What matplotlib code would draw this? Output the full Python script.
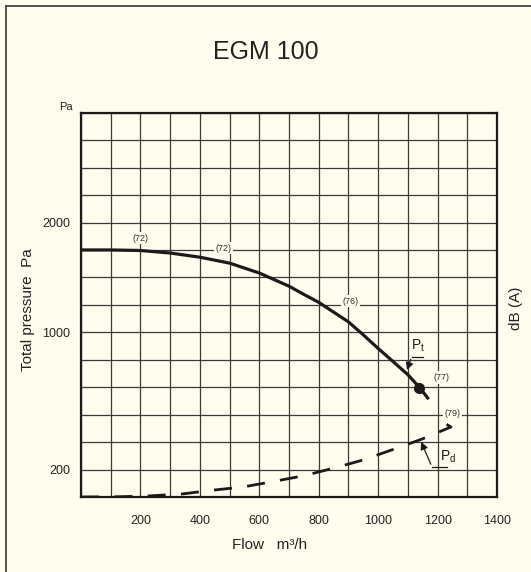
import numpy as np
import matplotlib
matplotlib.use("Agg")
import matplotlib.pyplot as plt
from matplotlib.lines import Line2D

plt.rcParams['font.family'] = ['Liberation Sans', 'DejaVu Sans']
plt.rcParams['mathtext.fontset'] = 'custom'
plt.rcParams['mathtext.rm'] = 'Liberation Sans'

BG = "#FFFDEE"
INK = "#1a1a1a"

# Pressure axis is not linear: grid rows vs Pa
pa_knots = [0, 200, 1000, 2000, 3000]
row_knots = [0, 1, 6, 10, 14]

# Total pressure curve Pt (flow m3/h, Pa)
pt_flow = [0, 100, 200, 300, 400, 500, 550, 600, 700, 750, 800, 900, 950, 1000, 1050, 1100, 1140, 1170]
pt_pa = [1750, 1750, 1745, 1722, 1684, 1630, 1585, 1540, 1420, 1345, 1273, 1095, 985, 906, 830, 753, 677, 610]

# Dynamic pressure curve Pd
pd_flow = [0, 130, 230, 340, 440, 545, 645, 750, 850, 950, 1045, 1145, 1245, 1200]
pd_pa = [0, 2, 8, 22, 49, 73, 112, 155, 208, 256, 314, 376, 448, 495]

# operating point
op_flow, op_pa = 1138, 677

# sound level labels dB(A)
db_labels = ["(72)", "(72)", "(76)", "(77)", "(79)"]
db_flow = [200, 480, 906, 1214, 1250]
db_pa = [1858, 1765, 1282, 736, 526]

x_ticks = list(range(0, 1500, 100))
x_labels = [str(v) if v % 200 == 0 and v > 0 else "" for v in x_ticks]
y_ticks = list(np.interp(np.arange(15), row_knots, pa_knots))
y_labels = {200: "200", 1000: "1000", 2000: "2000"}


def fwd(v):
    return np.interp(v, pa_knots, row_knots)


def inv(r):
    return np.interp(r, row_knots, pa_knots)


fig = plt.figure(figsize=(5.31, 5.72), dpi=100, facecolor=BG)
ax = fig.add_axes([81 / 531, 1 - 497 / 572, 416 / 531, 384.3 / 572])
ax.set_facecolor(BG)
ax.set_yscale('function', functions=(fwd, inv))
ax.set_xlim(0, 1400)
ax.set_ylim(0, 3000)

ax.set_xticks(x_ticks)
ax.set_xticklabels(x_labels, fontsize=9, color="#222")
ax.set_yticks(y_ticks)
ax.set_yticklabels([y_labels.get(int(round(v)), "") for v in y_ticks], fontsize=9, color="#222")
ax.tick_params(length=0, pad=8)
ax.tick_params(axis='x', pad=13)
ax.grid(True, color="#3a3a3a", lw=0.9)
ax.set_axisbelow(True)
for s in ax.spines.values():
    s.set_linewidth(1.6)
    s.set_color(INK)

# curves
ax.plot(pt_flow, pt_pa, color=INK, lw=2.3, solid_capstyle='butt', solid_joinstyle='round', zorder=3)
ax.plot(pd_flow, pd_pa, color=INK, lw=2.0, dashes=(6.5, 5.5), zorder=3)
ax.plot([op_flow], [op_pa], 'o', color=INK, ms=7, zorder=4)

for lab, fx, py in zip(db_labels, db_flow, db_pa):
    ax.text(fx, py, lab, fontsize=6.5, color="#333", ha='center', va='center', zorder=5,
            bbox=dict(fc=BG, ec='none', pad=1.2))

# Pt pointer
ax.text(1112, 872, "P$_{\\mathrm{t}}$", fontsize=10, color=INK, ha='left', va='bottom')
ax.plot([1113, 1151], [858, 858], color=INK, lw=0.9)
ax.annotate("", xy=(1094, 765), xytext=(1113, 858),
            arrowprops=dict(arrowstyle='-|>', color=INK, lw=0.9, mutation_scale=11))

# Pd pointer
ax.text(1208, 226, "P$_{\\mathrm{d}}$", fontsize=10, color=INK, ha='left', va='bottom')
ax.plot([1181, 1231], [216, 216], color=INK, lw=0.9)
ax.annotate("", xy=(1141, 376), xytext=(1181, 216),
            arrowprops=dict(arrowstyle='-|>', color=INK, lw=0.9, mutation_scale=11))

# texts around the grid
fig.text(266 / 531, 1 - 52 / 572, "EGM 100", fontsize=18, color="#222", ha='center', va='center')
fig.text(66 / 531, 1 - 107 / 572, "Pa", fontsize=8, color="#222", ha='center', va='center')
fig.text(28 / 531, 1 - 310 / 572, "Total pressure  Pa", fontsize=11, color="#222",
         rotation=90, ha='center', va='center')
fig.text(516 / 531, 1 - 308 / 572, "dB (A)", fontsize=11, color="#222",
         rotation=90, ha='center', va='center')
fig.text(270 / 531, 1 - 545 / 572, "Flow   m\u00b3/h", fontsize=11, color="#222",
         ha='center', va='center')

# outer frame (only left and top edges inside the picture)
fx0, fy0 = 5.5 / 531, 1 - 6 / 572
fig.add_artist(Line2D([fx0, fx0], [0, fy0], transform=fig.transFigure, color="#444", lw=1.3))
fig.add_artist(Line2D([fx0, 1], [fy0, fy0], transform=fig.transFigure, color="#444", lw=1.3))

fig.savefig("out.png", dpi=100, facecolor=BG)
